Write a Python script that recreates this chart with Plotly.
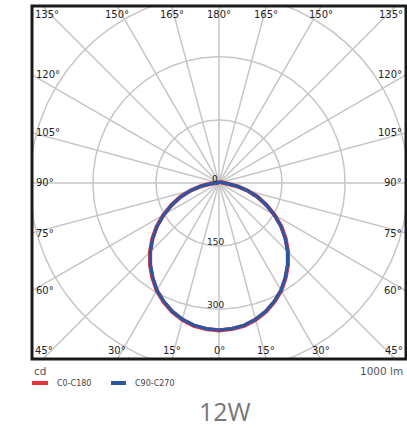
import numpy as np
import plotly.graph_objects as go

# photometric data, intensity in cd, gamma angle measured from nadir
GAMMA = [0, 5, 10, 15, 20, 25, 30, 35, 40, 45, 50, 55, 60, 65, 70, 75, 80, 85, 90,
         95, 100, 110, 120, 130, 140, 150, 160, 170, 180]
C0_C180 = [351, 349, 345, 337, 326, 312, 296, 276, 255, 232, 207, 181, 153, 125, 98, 70, 44, 20, 5,
           3, 3, 3, 3, 3, 3, 3, 3, 3, 3]
C90_C270 = [350, 348, 344, 336, 325, 311, 295, 275, 254, 231, 206, 180, 152, 124, 97, 69, 43, 19, 4,
            3, 3, 3, 3, 3, 3, 3, 3, 3, 3]

RINGS = [150, 300, 450]
RING_LABELS = ["0", "150", "300"]
GRID_ANGLES = list(range(0, 360, 15))
EDGE_LABELS = [0, 15, 30, 45, 60, 75, 90, 105, 120, 135, 150, 165, 180]

X_RANGE = [-445, 445]
Y_RANGE = [-419, 421]

GRID = "#c6c6c6"
RED = "#e8323a"
BLUE = "#2b56a3"


def polar_xy(gamma, values, mirror=False):
    g = np.radians(np.asarray(gamma, dtype=float))
    r = np.asarray(values, dtype=float)
    s = -1 if mirror else 1
    return s * r * np.sin(g), -r * np.cos(g)


def full_curve(values):
    xr, yr = polar_xy(GAMMA, values)
    xl, yl = polar_xy(GAMMA, values, mirror=True)
    return np.concatenate([xl[::-1], xr]), np.concatenate([yl[::-1], yr])


fig = go.Figure()

# circles
t = np.linspace(0, 2 * np.pi, 361)
for r in RINGS:
    fig.add_trace(go.Scatter(x=r * np.cos(t), y=r * np.sin(t), mode="lines",
                             line=dict(color=GRID, width=1.5), hoverinfo="skip"))

# radial lines
for a in GRID_ANGLES:
    x, y = polar_xy([0, a], [0, 1200])
    fig.add_trace(go.Scatter(x=x, y=y, mode="lines",
                             line=dict(color=GRID, width=1.5), hoverinfo="skip"))

# curves
x, y = full_curve(C0_C180)
fig.add_trace(go.Scatter(x=x, y=y, mode="lines", line=dict(color=RED, width=4.2), name="C0-C180"))
x, y = full_curve(C90_C270)
fig.add_trace(go.Scatter(x=x, y=y, mode="lines", line=dict(color=BLUE, width=3.2), name="C90-C270"))

lab_font = dict(family="DejaVu Sans", size=10, color="#1e1e1e")
annotations = []
xmax, ymax, ymin = X_RANGE[1], Y_RANGE[1], Y_RANGE[0]
for a in EDGE_LABELS:
    txt = f"{a}°"
    rad = np.radians(a)
    for side in ([1] if a in (0, 180) else [-1, 1]):
        if a == 45 or a == 135:
            annotations.append(dict(x=side * xmax, y=ymin if a == 45 else ymax, text=txt,
                                    xanchor="left" if side < 0 else "right",
                                    yanchor="bottom" if a == 45 else "top",
                                    xshift=-side * 1, yshift=1 if a == 45 else -1))
        elif a < 45:
            annotations.append(dict(x=side * (-ymin) * np.tan(rad), y=ymin, text=txt,
                                    xanchor="center", yanchor="bottom", yshift=1))
        elif a > 135:
            annotations.append(dict(x=side * ymax * np.tan(np.pi - rad), y=ymax, text=txt,
                                    xanchor="center", yanchor="top", yshift=-1))
        else:
            annotations.append(dict(x=side * xmax, y=-xmax * np.cos(rad) / np.sin(rad), text=txt,
                                    xanchor="left" if side < 0 else "right", yanchor="middle",
                                    xshift=-side * 2))
for a in annotations:
    a.update(xref="x", yref="y", showarrow=False, font=lab_font)

for r, txt in zip([0] + RINGS[:2], RING_LABELS):
    annotations.append(dict(x=-9, y=-r, xref="x", yref="y", text=txt, showarrow=False,
                            yshift=4, font=dict(family="DejaVu Sans", size=9, color="#222")))


def px_x(p):
    return (p - 32) / 374


def px_y(p):
    return (359 - p) / 353


small = dict(family="DejaVu Sans", size=10.5, color="#555")
annotations += [
    dict(x=px_x(32), y=px_y(371), text="cd", xanchor="left", yanchor="middle", font=small),
    dict(x=px_x(405), y=px_y(371), text="1000 lm", xanchor="right", yanchor="middle", font=small),
    dict(x=px_x(55), y=px_y(383), text="C0-C180", xanchor="left", yanchor="middle",
         font=dict(family="DejaVu Sans", size=8, color="#444")),
    dict(x=px_x(133), y=px_y(383), text="C90-C270", xanchor="left", yanchor="middle",
         font=dict(family="DejaVu Sans", size=8, color="#444")),
    dict(x=px_x(225), y=px_y(411), text="12W", xanchor="center", yanchor="middle",
         font=dict(family="Open Sans", size=25, color="#777")),
]
for a in annotations[-5:]:
    a.update(xref="paper", yref="paper", showarrow=False)

shapes = [
    dict(type="rect", xref="paper", yref="paper", x0=0, x1=1, y0=0, y1=1,
         line=dict(color="#1a1a1a", width=3)),
    dict(type="line", xref="paper", yref="paper", x0=px_x(32), x1=px_x(48),
         y0=px_y(383), y1=px_y(383), line=dict(color=RED, width=4)),
    dict(type="line", xref="paper", yref="paper", x0=px_x(111), x1=px_x(126),
         y0=px_y(383), y1=px_y(383), line=dict(color=BLUE, width=4)),
]

fig.update_layout(
    width=407, height=429,
    margin=dict(l=32, r=1, t=6, b=70),
    plot_bgcolor="white", paper_bgcolor="white",
    showlegend=False,
    xaxis=dict(range=X_RANGE, visible=False, fixedrange=True),
    yaxis=dict(range=Y_RANGE, visible=False, fixedrange=True),
    annotations=annotations,
    shapes=shapes,
)

fig.write_html("out.html", config={"displayModeBar": False},
               post_script="document.body.style.margin='0';document.body.style.overflow='hidden';")
